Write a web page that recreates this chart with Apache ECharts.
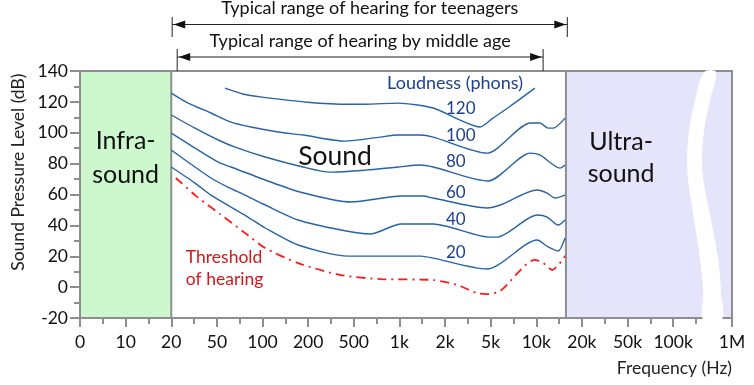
<!DOCTYPE html>
<html><head><meta charset="utf-8">
<script src="https://cdn.jsdelivr.net/npm/echarts@6/dist/echarts.min.js"></script>
<style>html,body{margin:0;padding:0;background:#fff}#c{width:754px;height:385px}</style>
</head><body><div id="c"></div>
<script>
// x axis is drawn in "tick index" units (0 = 0 Hz, 1 = 10 Hz, 2 = 20 Hz ... 13 = 100k, 14.29 = 1M)
const tickLabels = ['0','10','20','50','100','200','500','1k','2k','5k','10k','20k','50k','100k','1M'];
const tickPos = [0,1,2,3,4,5,6,7,8,9,10,11,12,13,14.29];
const minorPos = [0.5,1.5,2.5,3.5,4.5,5.5,6.5,7.5,8.5,9.5,10.5,11.5,12.5,13.5];
const xMax = 14.29;
const yTicks = [-20, 0, 20, 40, 60, 80, 100, 120, 140];

// equal-loudness contours [x index, dB]
const phon120 = [[3.18,128.9],[3.57,125.1],[3.99,123.1],[4.98,119.8],[5.92,118.5],[6.25,118.5],[6.97,119.2],[7.74,116.0],[8.33,108.2],[8.77,103.7],[9.05,109.5],[9.43,117.2],[9.97,128.9]];
const phon100 = [[2.0,125.7],[2.37,119.2],[2.87,112.8],[3.31,106.9],[3.75,103.7],[4.34,100.5],[4.89,98.5],[5.81,94.6],[6.58,97.2],[6.97,98.5],[7.45,98.5],[7.74,97.2],[8.92,86.8],[9.87,106.3],[10.08,106.3],[10.26,103.0],[10.37,103.0],[10.63,109.5]];
const phon80 = [[2.0,111.5],[2.52,103.0],[3.03,95.3],[3.40,90.7],[4.06,84.3],[4.89,77.8],[5.48,74.5],[6.25,75.8],[6.97,77.8],[7.45,79.1],[7.74,77.8],[8.94,68.7],[9.87,86.8],[10.08,85.6],[10.52,77.1],[10.63,79.1]];
const phon60 = [[2.0,99.8],[2.52,90.1],[3.03,81.0],[3.31,77.8],[4.06,69.4],[4.82,61.6],[5.94,55.1],[7.04,59.0],[7.52,59.0],[7.74,57.7],[8.92,51.3],[9.21,53.2],[10.02,62.9],[10.24,60.9],[10.41,57.7],[10.63,59.6]];
const phon40 = [[2.0,88.8],[2.52,77.8],[2.87,70.7],[3.24,64.8],[3.62,59.6],[4.06,53.2],[4.78,43.5],[5.72,37.0],[6.36,34.4],[7.04,40.9],[7.74,40.9],[8.99,32.4],[9.14,32.4],[10.02,46.7],[10.24,45.4],[10.48,40.2],[10.63,43.5]];
const phon20 = [[2.0,77.8],[2.52,67.4],[2.87,59.6],[3.68,45.4],[4.06,38.3],[4.78,27.3],[5.88,20.1],[7.48,20.1],[7.74,18.8],[8.92,11.7],[10.02,30.5],[10.26,26.0],[10.48,23.4],[10.63,31.8]];
const threshold = [[2.10,70.7],[2.52,59.6],[3.07,47.3],[3.62,35.0],[4.06,25.3],[4.78,15.6],[5.72,7.8],[6.60,5.2],[7.74,4.6],[8.26,1.4],[8.70,-3.8],[8.92,-4.5],[9.21,-2.5],[9.97,17.6],[10.15,15.6],[10.35,11.1],[10.63,20.1]];

const infraRange = [0, 2];
const ultraRange = [10.65, 14.29];
const teenRange = [2.02, 10.68];
const middleRange = [2.13, 10.15];

// axis-break band (white stripe in the ultrasound area)
const breakY = [139.3, 121.2, 101.8, 75.8, 43.5, 17.6, -3.8, -21];
const breakLeft = [13.68, 13.48, 13.35, 13.31, 13.46, 13.59, 13.66, 13.66];
const breakRight = [13.94, 13.81, 13.68, 13.64, 13.83, 13.99, 14.05, 14.07];

const phonLabels = [['120',116.0],['100',98.5],['80',81.6],['60',61.6],['40',43.5],['20',22.7]];

const FONT = 'Lato, "Open Sans", sans-serif';
const GRAY = '#8e8e8e';
const BLUE = '#2763a6';
const LABEL_BLUE = '#1c3f8e';

const chart = echarts.init(document.getElementById('c'), null, {renderer:'canvas'});

function curve(name, data){
  return {name, type:'line', data, symbol:'none', smooth:0.25, z:5,
    lineStyle:{color:BLUE, width:1.4}, silent:true, animation:false};
}

const option = {
  animation:false,
  grid:{left:80, right:22, top:71, bottom:67, show:true, borderColor:GRAY, borderWidth:2, backgroundColor:'transparent',
    containLabel:false, outerBoundsMode:'none'},
  xAxis:[{
    type:'value', min:0, max:xMax, position:'bottom',
    axisLine:{show:true, onZero:false, lineStyle:{color:GRAY, width:2}},
    axisTick:{show:true, customValues:tickPos, length:9, lineStyle:{color:GRAY, width:2}},
    axisLabel:{show:true, customValues:tickPos, margin:15, color:'#111', fontSize:17.5, fontFamily:FONT,
      formatter:function(v){let best=0;for(let i=0;i<tickPos.length;i++){if(Math.abs(tickPos[i]-v)<Math.abs(tickPos[best]-v))best=i;}return tickLabels[best];}},
    splitLine:{show:false},
    name:'Frequency (Hz)', nameLocation:'end', nameGap:0,
    nameTextStyle:{align:'right', verticalAlign:'top', padding:[41,0,0,0], fontSize:17.5, fontFamily:FONT, color:'#222'}
  },{
    type:'value', min:0, max:xMax, position:'bottom',
    axisLine:{show:false, onZero:false},
    axisTick:{show:true, customValues:minorPos, length:6, lineStyle:{color:GRAY, width:2}},
    axisLabel:{show:false}, splitLine:{show:false}
  }],
  yAxis:[{
    type:'value', min:-20, max:140, interval:20,
    axisLine:{show:true, onZero:false, lineStyle:{color:GRAY, width:2}},
    axisTick:{show:true, length:10, lineStyle:{color:GRAY, width:2}},
    minorTick:{show:true, splitNumber:2, length:6, lineStyle:{color:GRAY, width:2}},
    axisLabel:{margin:12, color:'#111', fontSize:17.5, fontFamily:FONT},
    splitLine:{show:false}
  }],
  series:[
    {type:'line', data:[], z:1, silent:true,
      markArea:{silent:true, data:[
        [{xAxis:infraRange[0], yAxis:-20, itemStyle:{color:'#cdf8cd', borderColor:GRAY, borderWidth:2}},{xAxis:infraRange[1], yAxis:140}],
        [{xAxis:ultraRange[0], yAxis:-20, itemStyle:{color:'#e4e4fa', borderColor:GRAY, borderWidth:2}},{xAxis:ultraRange[1], yAxis:140}]
      ]}},
    {type:'custom', z:3, silent:true, clip:false, data:[0],
      renderItem:function(params, api){
        const pts=[];
        for(let i=0;i<breakY.length;i++) pts.push(api.coord([breakLeft[i], breakY[i]]));
        for(let i=breakY.length-1;i>=0;i--) pts.push(api.coord([breakRight[i], breakY[i]]));
        return {type:'polygon', shape:{points:pts, smooth:0.35}, style:{fill:'#ffffff', stroke:null}};
      }},
    curve('120', phon120),
    curve('100', phon100),
    curve('80', phon80),
    curve('60', phon60),
    curve('40', phon40),
    curve('20', phon20),
    {name:'Threshold', type:'line', data:threshold, symbol:'none', smooth:0.25, z:5, silent:true,
      lineStyle:{color:'#ff1a1a', width:1.8, type:[9,5,2,5]}}
  ]
};
chart.setOption(option);

function P(x,y){return chart.convertToPixel({xAxisIndex:0,yAxisIndex:0},[x,y]);}
function txt(x,y,text,opts){
  const p=P(x,y);
  return Object.assign({type:'text', x:p[0], y:p[1], z:100, silent:true,
    style:Object.assign({text, fontFamily:FONT, fontSize:16, fill:'#111', align:'center', verticalAlign:'middle'}, opts||{})});
}
const g=[];
g.push(txt(1.0, 83.6, 'Infra-\nsound', {fontSize:25, lineHeight:34}));
g.push(txt(5.59, 84.9, 'Sound', {fontSize:26.5}));
g.push(txt(11.86, 83.9, 'Ultra-\nsound', {fontSize:25, lineHeight:32}));
g.push(txt(8.22, 132.2, 'Loudness (phons)', {fontSize:18, fill:LABEL_BLUE}));
phonLabels.forEach(function(l){ g.push(txt(8.02, l[1], l[0], {fontSize:17, fill:LABEL_BLUE, align:'left'})); });
g.push(txt(2.32, 12.4, 'Threshold\nof hearing', {fontSize:17.5, fill:'#d7151c', align:'left', lineHeight:22}));

// y axis title (sits a little above the axis middle, as in the original)
(function(){
  const p=P(0, 74.5);
  g.push({type:'text', x:p[0]-62, y:p[1], rotation:Math.PI/2, z:100, silent:true,
    style:{text:'Sound Pressure Level (dB)', fontFamily:FONT, fontSize:17.5, fill:'#222', align:'center', verticalAlign:'middle'}});
})();

// top range arrows
function rangeArrow(range, yLine, yTop, yBot, label, yLabel){
  const x0=P(range[0],0)[0], x1=P(range[1],0)[0];
  const st={stroke:'#222', lineWidth:1};
  g.push({type:'line', z:100, shape:{x1:x0, y1:yLine, x2:x1, y2:yLine}, style:st});
  g.push({type:'line', z:100, shape:{x1:x0, y1:yTop, x2:x0, y2:yBot}, style:st});
  g.push({type:'line', z:100, shape:{x1:x1, y1:yTop, x2:x1, y2:yBot}, style:st});
  g.push({type:'polygon', z:100, shape:{points:[[x0+1.5,yLine],[x0+13,yLine-4],[x0+13,yLine+4]]}, style:{fill:'#111'}});
  g.push({type:'polygon', z:100, shape:{points:[[x1-1.5,yLine],[x1-13,yLine-4],[x1-13,yLine+4]]}, style:{fill:'#111'}});
  g.push({type:'text', z:100, x:(x0+x1)/2, y:yLabel, style:{text:label, fontFamily:FONT, fontSize:18, fill:'#111', align:'center', verticalAlign:'middle'}});
}
rangeArrow(teenRange, 24.5, 17, 37, 'Typical range of hearing for teenagers', 8);
rangeArrow(middleRange, 57, 49, 71, 'Typical range of hearing by middle age', 41);

chart.setOption({graphic:{elements:g}});
</script></body></html>
